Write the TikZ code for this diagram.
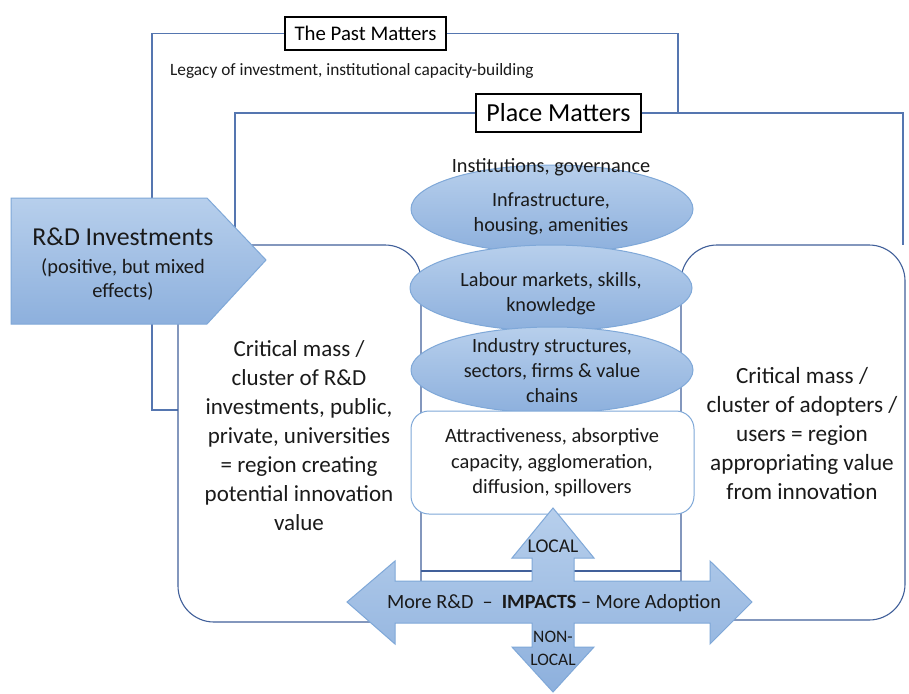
\documentclass[tikz,border=0pt]{standalone}
\usepackage{fontspec}
\setmainfont{Carlito}
\usetikzlibrary{shapes.geometric}
\definecolor{frameblue}{HTML}{5576B0}
\definecolor{boxblue}{HTML}{41609A}
\definecolor{elltop}{HTML}{B7CFEC}
\definecolor{ellbot}{HTML}{8DB0DD}
\definecolor{ellline}{HTML}{7FA8D8}
\definecolor{txtcol}{HTML}{1A1A1A}
\newcommand{\fsz}[2]{\fontsize{#1}{#2}\selectfont}
\tikzset{
  frameline/.style={draw=frameblue, line width=1.1pt},
  regionbox/.style={draw=boxblue, line width=1.1pt, rounded corners=36pt, inner sep=0pt},
  labelbox/.style={draw=black, fill=white, line width=1.1pt, inner sep=0pt},
  factor/.style={ellipse, draw=ellline, line width=1pt, top color=elltop, bottom color=ellbot, minimum width=282pt, minimum height=88pt, inner sep=0pt},
  bluearrow/.style={draw=ellline, line width=1pt, top color=elltop, bottom color=ellbot, line join=miter},
  txt/.style={text=txtcol, align=center, inner sep=0pt},
}
\begin{document}
\begin{tikzpicture}[x=1pt,y=-1pt]
\useasboundingbox (0,0) rectangle (909,693);
\fill[white] (0,0) rectangle (909,693);

% label boxes
\node[labelbox, minimum width=161pt, minimum height=33pt, font=\fsz{20.8}{24}] (past) at (365.5,33.5) {The Past Matters};
\node[labelbox, minimum width=165pt, minimum height=38pt, font=\fsz{26}{30}] (place) at (558.5,113) {Place Matters};

% frames
\coordinate (pastcorner) at (152,410);
\coordinate (pastend) at (178,410);
\coordinate (pastright) at (678,113);
\coordinate (placeleft) at (235,245);
\coordinate (placeright) at (903,245);
\draw[frameline] (past.west) -| (pastcorner) -- (pastend);
\draw[frameline] (past.east) -| (pastright);
\draw[frameline] (place.west) -| (placeleft);
\draw[frameline] (place.east) -| (placeright);

\node[txt, anchor=west, font=\fsz{17.3}{20}] (legacy) at (170,71) {Legacy of investment, institutional capacity-building};

% regions
\node[regionbox, minimum width=243pt, minimum height=377pt] (leftreg) at (299.5,433.5) {};
\node[regionbox, minimum width=224pt, minimum height=375pt] (rightreg) at (793,432.5) {};
\coordinate (colL) at (421,571);
\coordinate (colR) at (681,571);
\draw[draw=boxblue, line width=1.1pt] (colL) -- (colR);

% factor ellipses
\node[factor] (infra) at (552,209) {};
\node[factor, minimum height=86pt] (labour) at (551,288) {};
\node[factor, minimum height=86pt] (industry) at (552,370) {};
\node[draw=ellline, fill=white, rounded corners=18pt, line width=1pt, minimum width=283pt, minimum height=103pt] (attract) at (552.5,462.5) {};

\node[txt, font=\fsz{20.3}{22}] (inst) at (551,167) {Institutions, governance};
\node[txt, font=\fsz{20.2}{25}] (infratext) at (551,214) {Infrastructure,\\housing, amenities};
\node[txt, font=\fsz{20.2}{25}] (labourtext) at (551,294) {Labour markets, skills,\\knowledge};
\node[txt, font=\fsz{20.2}{25}] (industrytext) at (552,371) {Industry structures,\\sectors, firms \& value\\chains};
\node[txt, font=\fsz{20.4}{25.5}] (attracttext) at (552,463) {Attractiveness, absorptive\\capacity, agglomeration,\\diffusion, spillovers};

% R&D pentagon arrow
\path[bluearrow] (11,198) -- (207,198) -- (266,260) -- (207,324) -- (11,324) -- cycle;
\node[txt, font=\fsz{25.8}{28}] (rdtitle) at (123,237) {R\&D Investments};
\node[txt, font=\fsz{20.4}{24}] (rdsub) at (123,279) {(positive, but mixed\\effects)};

% region texts
\node[txt, font=\fsz{23}{29}] (lefttext) at (299,436) {Critical mass /\\cluster of R\&D\\investments, public,\\private, universities\\= region creating\\potential innovation\\value};
\node[txt, font=\fsz{23.2}{29}] (righttext) at (802,434) {Critical mass /\\cluster of adopters /\\users = region\\appropriating value\\from innovation};

% impacts cross arrow
\path[bluearrow] (347,602) -- (395,561) -- (395,581) -- (532,581) -- (532,558) -- (512,558) -- (553,508) -- (594,558) -- (574,558) -- (574,581) -- (710,581) -- (710,561) -- (752,602) -- (710,644) -- (710,623) -- (574,623) -- (574,647) -- (594,647) -- (553,692) -- (512,647) -- (532,647) -- (532,623) -- (395,623) -- (395,644) -- cycle;
\node[txt, font=\fsz{20.2}{24}] (impacts) at (554,603) {More R\&D~~--~~\textbf{IMPACTS}~--~More Adoption};
\node[txt, font=\fsz{19.5}{20}] (local) at (553,546) {LOCAL};
\node[txt, font=\fsz{17.5}{23}] (nonlocal) at (553,648) {NON-\\LOCAL};
\end{tikzpicture}
\end{document}
